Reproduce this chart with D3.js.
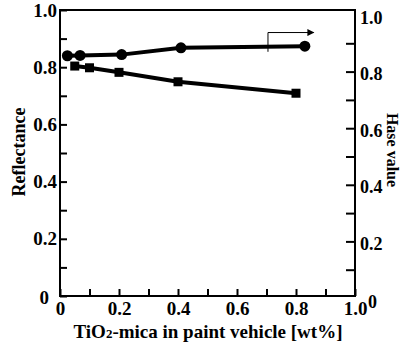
<!DOCTYPE html>
<html>
<head>
<meta charset="utf-8">
<script src="https://cdn.jsdelivr.net/npm/d3@7"></script>
<style>
  html, body { margin: 0; padding: 0; background: #fff; }
  svg { display: block; }
</style>
</head>
<body>
<svg id="chart" width="402" height="350" font-family="'Liberation Serif', 'DejaVu Serif', serif" font-weight="bold"></svg>
<script>
// ---- data ----
const reflX = [0.05, 0.10, 0.20, 0.40, 0.80];
const reflY = [0.804, 0.798, 0.782, 0.749, 0.709];
const haseX = [0.025, 0.068, 0.209, 0.41, 0.83];
const haseY = [0.856, 0.857, 0.860, 0.884, 0.890];
const tickVals = [0, 0.1, 0.2, 0.3, 0.4, 0.5, 0.6, 0.7, 0.8, 0.9, 1.0];
const xTitleParts = ["TiO", "2", "-mica in paint vehicle [wt%]"];
const yLeftTitle = "Reflectance";
const yRightTitle = "Hase value";

const SERIF = "'Liberation Serif', 'DejaVu Serif', serif";
const svg = d3.select("#chart");
const L = 60, R = 355, T = 10, B = 296;

const x = d3.scaleLinear().domain([0, 1]).range([L, R]);
const yL = d3.scaleLinear().domain([0, 1]).range([B, T]);
const yR = d3.scaleLinear().domain([0, 1]).range([298, 15]);

const fmt = d => d === 0 ? "0" : d3.format(".1f")(d);
const labelFmt = d => (Math.round(d * 10) % 2 === 0) ? fmt(d) : "";

// bottom axis
const gx = svg.append("g").attr("transform", `translate(0,${B})`)
  .call(d3.axisBottom(x).tickValues(tickVals).tickSizeInner(-7).tickSizeOuter(0).tickPadding(6).tickFormat(labelFmt));
// left axis
const gl = svg.append("g").attr("transform", `translate(${L},0)`)
  .call(d3.axisLeft(yL).tickValues(tickVals).tickSizeInner(-7).tickSizeOuter(0).tickPadding(3).tickFormat(labelFmt));
// right axis
const gr = svg.append("g").attr("transform", `translate(${R},0)`)
  .call(d3.axisRight(yR).tickValues(tickVals).tickSizeInner(-9).tickSizeOuter(0).tickPadding(5).tickFormat(labelFmt));

[gx, gl].forEach(g => g.attr("font-size", 19));
gr.attr("font-size", 18);
[gx, gl, gr].forEach(g => {
  g.attr("font-family", SERIF).attr("font-weight", "bold");
  g.select(".domain").remove();
  g.selectAll("line").attr("stroke", "#000").attr("stroke-width", 2);
  g.selectAll("text").attr("fill", "#000");
});
gr.selectAll(".tick").filter(d => d === 0 || d === 1).select("line").remove();
gr.selectAll("text").attr("dy", "0.45em");
gl.selectAll(".tick").filter(d => d === 0).select("text").attr("x", -11).attr("dy", "0.42em");
gr.selectAll(".tick").filter(d => d === 0).select("text").attr("x", 13).attr("dy", "0.55em");

// frame
svg.append("rect").attr("x", L).attr("y", T).attr("width", R - L).attr("height", B - T)
  .attr("fill", "none").attr("stroke", "#000").attr("stroke-width", 2);

// series lines
const reflData = reflX.map((v, i) => [v, reflY[i]]);
const haseData = haseX.map((v, i) => [v, haseY[i]]);

svg.append("path").datum(reflData)
  .attr("d", d3.line().x(d => x(d[0])).y(d => yL(d[1])))
  .attr("fill", "none").attr("stroke", "#000").attr("stroke-width", 4);
svg.append("path").datum(haseData)
  .attr("d", d3.line().x(d => x(d[0])).y(d => yR(d[1])))
  .attr("fill", "none").attr("stroke", "#000").attr("stroke-width", 4);

const sq = 9;
svg.selectAll("rect.sq").data(reflData).enter().append("rect").attr("class", "sq")
  .attr("x", d => x(d[0]) - sq / 2).attr("y", d => yL(d[1]) - sq / 2)
  .attr("width", sq).attr("height", sq).attr("fill", "#000");
svg.selectAll("circle.hc").data(haseData).enter().append("circle").attr("class", "hc")
  .attr("cx", d => x(d[0])).attr("cy", d => yR(d[1])).attr("r", 5.5).attr("fill", "#000");

// arrow indicating right axis
const ax0 = x(0.705), ay0 = yR(0.87), ayTop = yR(0.938), ax1 = x(0.86);
svg.append("defs").append("marker").attr("id", "ah")
  .attr("viewBox", "0 0 10 10").attr("refX", 9).attr("refY", 5)
  .attr("markerWidth", 9).attr("markerHeight", 7).attr("markerUnits", "userSpaceOnUse")
  .attr("orient", "auto")
  .append("path").attr("d", "M0,0 L10,5 L0,10 Z").attr("fill", "#000");
svg.append("path")
  .attr("d", `M${ax0},${ay0} L${ax0},${ayTop} L${ax1},${ayTop}`)
  .attr("fill", "none").attr("stroke", "#000").attr("stroke-width", 1)
  .attr("marker-end", "url(#ah)");

// titles
svg.append("text").attr("transform", "translate(25,152) rotate(-90)")
  .attr("text-anchor", "middle").attr("font-size", 18).text(yLeftTitle);
svg.append("text").attr("transform", "translate(387,150) rotate(90)")
  .attr("text-anchor", "middle").attr("font-size", 16).text(yRightTitle);
const xt = svg.append("text").attr("x", 208).attr("y", 338).attr("text-anchor", "middle").attr("font-size", 19);
xt.append("tspan").text(xTitleParts[0]);
xt.append("tspan").attr("font-size", 13).text(xTitleParts[1]);
xt.append("tspan").text(xTitleParts[2]);
</script>
</body>
</html>
